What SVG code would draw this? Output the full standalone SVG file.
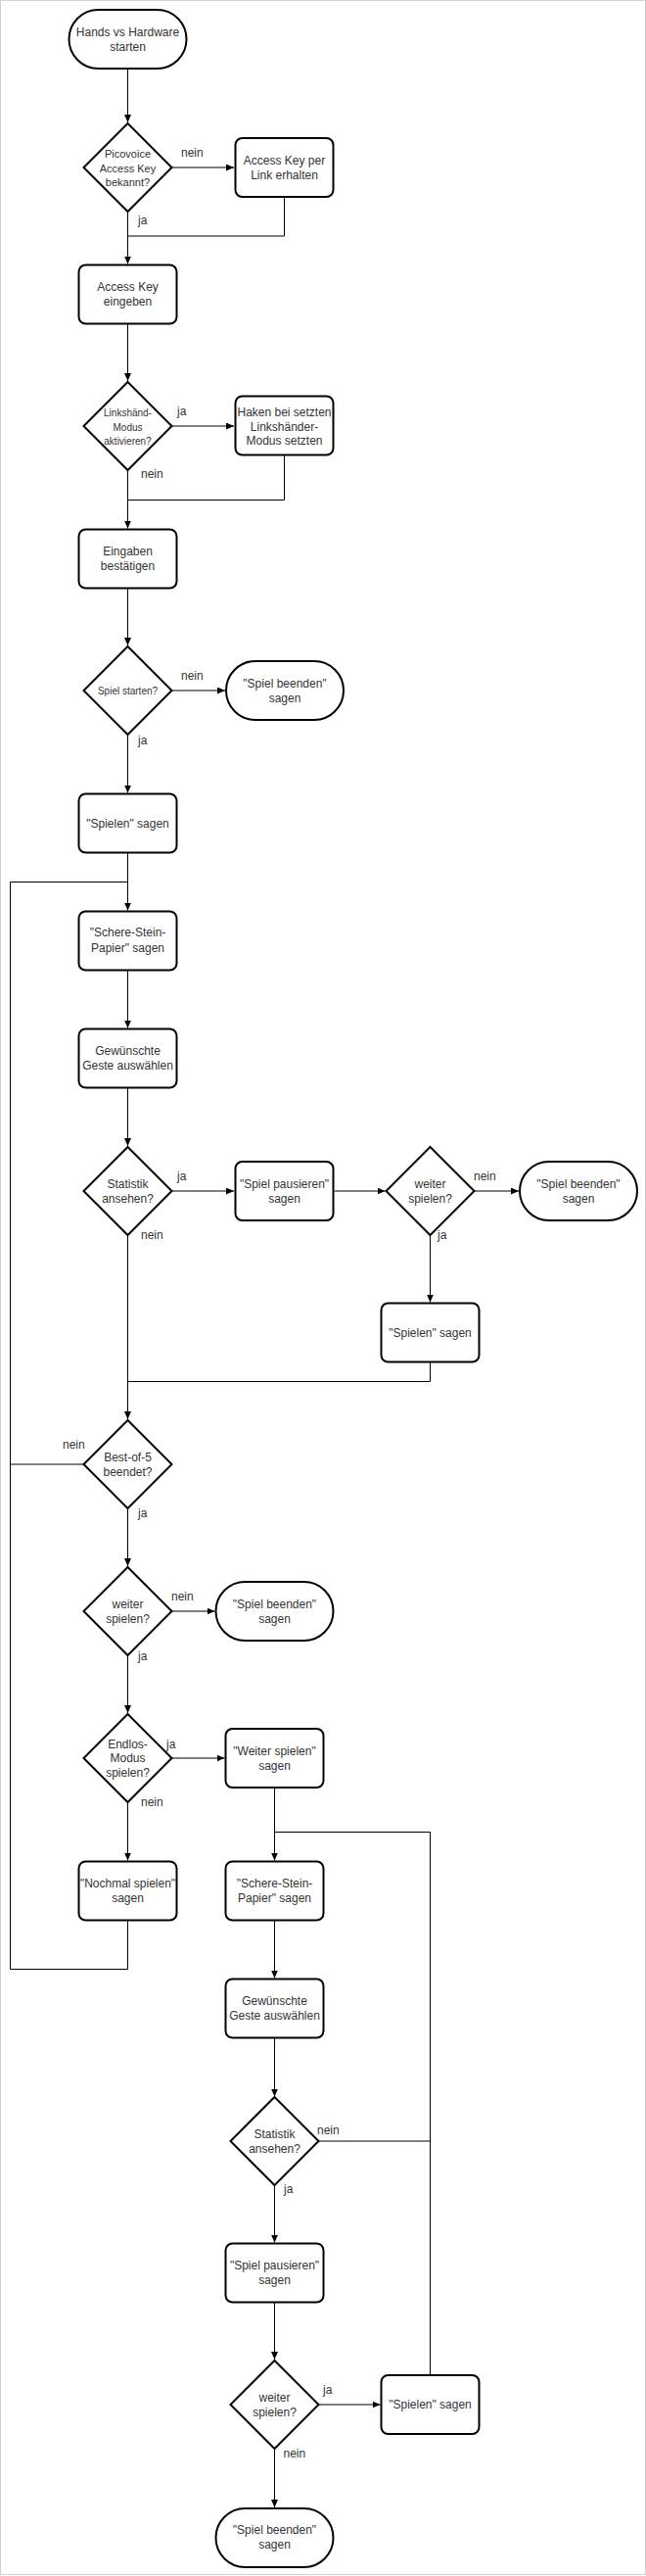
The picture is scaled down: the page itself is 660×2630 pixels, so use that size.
<svg xmlns="http://www.w3.org/2000/svg" width="660" height="2630" viewBox="0 0 660 2630">
<style>
.n{fill:#fff;stroke:#000;stroke-width:2}
.t{font-family:"Liberation Sans",Arial,sans-serif;font-size:12px;fill:#333;text-anchor:middle}
.s11{font-size:11px}
.s10{font-size:10px}
.l{font-family:"Liberation Sans",Arial,sans-serif;font-size:12px;fill:#333}
.c{fill:none;stroke:#000;stroke-width:1}
</style>
<defs>
<marker id="a" markerWidth="8" markerHeight="7" refX="8" refY="3.5" orient="auto" markerUnits="userSpaceOnUse"><path d="M0,0 L8,3.5 L0,7 z" fill="#000"/></marker>
</defs>
<rect x="0.5" y="0.5" width="659" height="2628" fill="#fff" stroke="#d0d0d0"/>
<g id="connectors">
<path class="c" d="M130.5,70 V125" marker-end="url(#a)"/>
<path class="c" d="M175.5,171 H239" marker-end="url(#a)"/>
<path class="c" d="M290.5,201 V241 H130.5"/>
<path class="c" d="M130.5,216 V269.5" marker-end="url(#a)"/>
<path class="c" d="M130.5,330.5 V389" marker-end="url(#a)"/>
<path class="c" d="M175.5,435 H239" marker-end="url(#a)"/>
<path class="c" d="M290.5,464.5 V510.5 H130.5"/>
<path class="c" d="M130.5,480 V539.5" marker-end="url(#a)"/>
<path class="c" d="M130.5,600.5 V659" marker-end="url(#a)"/>
<path class="c" d="M175.5,705 H230" marker-end="url(#a)"/>
<path class="c" d="M130.5,750 V809.5" marker-end="url(#a)"/>
<path class="c" d="M130.5,870.5 V929.5" marker-end="url(#a)"/>
<path class="c" d="M130.5,990.5 V1049.5" marker-end="url(#a)"/>
<path class="c" d="M130.5,1110.5 V1170" marker-end="url(#a)"/>
<path class="c" d="M175.5,1216 H239" marker-end="url(#a)"/>
<path class="c" d="M341.5,1216 H393.5" marker-end="url(#a)"/>
<path class="c" d="M484.5,1216 H530" marker-end="url(#a)"/>
<path class="c" d="M439.5,1261 V1329.5" marker-end="url(#a)"/>
<path class="c" d="M439.5,1390.5 V1410.5 H130.5"/>
<path class="c" d="M130.5,1261 V1449" marker-end="url(#a)"/>
<path class="c" d="M85.5,1495 H10.5 V900.5 H130.5"/>
<path class="c" d="M130.5,1540 V1599" marker-end="url(#a)"/>
<path class="c" d="M175.5,1645 H219.5" marker-end="url(#a)"/>
<path class="c" d="M130.5,1690 V1749" marker-end="url(#a)"/>
<path class="c" d="M175.5,1795 H229.5" marker-end="url(#a)"/>
<path class="c" d="M130.5,1840 V1899.5" marker-end="url(#a)"/>
<path class="c" d="M130.5,1960.5 V2010.5 H10.5 V1495"/>
<path class="c" d="M280.5,1825 V1899.5" marker-end="url(#a)"/>
<path class="c" d="M280.5,1960.5 V2019.5" marker-end="url(#a)"/>
<path class="c" d="M280.5,2080.5 V2140.5" marker-end="url(#a)"/>
<path class="c" d="M325.5,2186 H439.5"/>
<path class="c" d="M280.5,2231 V2289.5" marker-end="url(#a)"/>
<path class="c" d="M280.5,2350.5 V2409" marker-end="url(#a)"/>
<path class="c" d="M325.5,2455 H388.5" marker-end="url(#a)"/>
<path class="c" d="M439.5,2425 V1870.5 H280.5"/>
<path class="c" d="M280.5,2500 V2560" marker-end="url(#a)"/>
</g>
<g id="labels">
<text class="l" x="185" y="160">nein</text>
<text class="l" x="141" y="229">ja</text>
<text class="l" x="181" y="424">ja</text>
<text class="l" x="144" y="488">nein</text>
<text class="l" x="185" y="694">nein</text>
<text class="l" x="141" y="760">ja</text>
<text class="l" x="181" y="1205">ja</text>
<text class="l" x="144" y="1265">nein</text>
<text class="l" x="484" y="1205">nein</text>
<text class="l" x="447" y="1265">ja</text>
<text class="l" x="64" y="1479">nein</text>
<text class="l" x="141" y="1549">ja</text>
<text class="l" x="175" y="1634">nein</text>
<text class="l" x="141" y="1695">ja</text>
<text class="l" x="170" y="1785">ja</text>
<text class="l" x="144" y="1844">nein</text>
<text class="l" x="324" y="2179">nein</text>
<text class="l" x="290" y="2239">ja</text>
<text class="l" x="330" y="2444">ja</text>
<text class="l" x="289.5" y="2509">nein</text>
</g>
<g id="start">
<rect class="n" x="70.5" y="10" width="120" height="60" rx="30"/>
<text class="t" x="130.5" y="37">Hands vs Hardware</text>
<text class="t" x="130.5" y="52">starten</text>
</g>
<g id="d1">
<path class="n" d="M130.5,126 L175.5,171 L130.5,216 L85.5,171 Z"/>
<text class="t s11" x="130.5" y="161">Picovoice</text>
<text class="t s11" x="130.5" y="175.5">Access Key</text>
<text class="t s11" x="130.5" y="190">bekannt?</text>
</g>
<g id="b1">
<rect class="n" x="240.5" y="141" width="100" height="60" rx="7"/>
<text class="t" x="290.5" y="168">Access Key per</text>
<text class="t" x="290.5" y="183">Link erhalten</text>
</g>
<g id="b2">
<rect class="n" x="80.5" y="270.5" width="100" height="60" rx="7"/>
<text class="t" x="130.5" y="297">Access Key</text>
<text class="t" x="130.5" y="312">eingeben</text>
</g>
<g id="d2">
<path class="n" d="M130.5,390 L175.5,435 L130.5,480 L85.5,435 Z"/>
<text class="t s10" x="130.5" y="425">Linkshänd-</text>
<text class="t s10" x="130.5" y="439.5">Modus</text>
<text class="t s10" x="130.5" y="454">aktivieren?</text>
</g>
<g id="b3">
<rect class="n" x="240.5" y="404.5" width="100" height="60" rx="7"/>
<text class="t" x="290.5" y="425">Haken bei setzten</text>
<text class="t" x="290.5" y="439.5">Linkshänder-</text>
<text class="t" x="290.5" y="454">Modus setzten</text>
</g>
<g id="b4">
<rect class="n" x="80.5" y="540.5" width="100" height="60" rx="7"/>
<text class="t" x="130.5" y="567">Eingaben</text>
<text class="t" x="130.5" y="582">bestätigen</text>
</g>
<g id="d3">
<path class="n" d="M130.5,660 L175.5,705 L130.5,750 L85.5,705 Z"/>
<text class="t s10" x="130.5" y="708.5">Spiel starten?</text>
</g>
<g id="t2">
<rect class="n" x="231" y="675" width="120" height="60" rx="30"/>
<text class="t" x="291" y="702">"Spiel beenden"</text>
<text class="t" x="291" y="717">sagen</text>
</g>
<g id="b5">
<rect class="n" x="80.5" y="810.5" width="100" height="60" rx="7"/>
<text class="t" x="130.5" y="844.5">"Spielen" sagen</text>
</g>
<g id="b6">
<rect class="n" x="80.5" y="930.5" width="100" height="60" rx="7"/>
<text class="t" x="130.5" y="956">"Schere-Stein-</text>
<text class="t" x="130.5" y="971.5">Papier" sagen</text>
</g>
<g id="b7">
<rect class="n" x="80.5" y="1050.5" width="100" height="60" rx="7"/>
<text class="t" x="130.5" y="1077">Gewünschte</text>
<text class="t" x="130.5" y="1092">Geste auswählen</text>
</g>
<g id="d4">
<path class="n" d="M130.5,1171 L175.5,1216 L130.5,1261 L85.5,1216 Z"/>
<text class="t" x="130.5" y="1213">Statistik</text>
<text class="t" x="130.5" y="1228">ansehen?</text>
</g>
<g id="b8">
<rect class="n" x="240.5" y="1186" width="100" height="60" rx="7"/>
<text class="t" x="290.5" y="1213">"Spiel pausieren"</text>
<text class="t" x="290.5" y="1228">sagen</text>
</g>
<g id="d5">
<path class="n" d="M439.5,1171 L484.5,1216 L439.5,1261 L394.5,1216 Z"/>
<text class="t" x="439.5" y="1213">weiter</text>
<text class="t" x="439.5" y="1228">spielen?</text>
</g>
<g id="t3">
<rect class="n" x="531" y="1186" width="120" height="60" rx="30"/>
<text class="t" x="591" y="1213">"Spiel beenden"</text>
<text class="t" x="591" y="1228">sagen</text>
</g>
<g id="b9">
<rect class="n" x="389.5" y="1330.5" width="100" height="60" rx="7"/>
<text class="t" x="439.5" y="1364.5">"Spielen" sagen</text>
</g>
<g id="d6">
<path class="n" d="M130.5,1450 L175.5,1495 L130.5,1540 L85.5,1495 Z"/>
<text class="t" x="130.5" y="1491.5">Best-of-5</text>
<text class="t" x="130.5" y="1506.5">beendet?</text>
</g>
<g id="d7">
<path class="n" d="M130.5,1600 L175.5,1645 L130.5,1690 L85.5,1645 Z"/>
<text class="t" x="130.5" y="1642">weiter</text>
<text class="t" x="130.5" y="1657">spielen?</text>
</g>
<g id="t4">
<rect class="n" x="220.5" y="1615" width="120" height="60" rx="30"/>
<text class="t" x="280.5" y="1642">"Spiel beenden"</text>
<text class="t" x="280.5" y="1657">sagen</text>
</g>
<g id="d8">
<path class="n" d="M130.5,1750 L175.5,1795 L130.5,1840 L85.5,1795 Z"/>
<text class="t" x="130.5" y="1784.5">Endlos-</text>
<text class="t" x="130.5" y="1799">Modus</text>
<text class="t" x="130.5" y="1813.5">spielen?</text>
</g>
<g id="b10">
<rect class="n" x="230.5" y="1765" width="100" height="60" rx="7"/>
<text class="t" x="280.5" y="1792">"Weiter spielen"</text>
<text class="t" x="280.5" y="1807">sagen</text>
</g>
<g id="b11">
<rect class="n" x="80.5" y="1900.5" width="100" height="60" rx="7"/>
<text class="t" x="130.5" y="1927">"Nochmal spielen"</text>
<text class="t" x="130.5" y="1942">sagen</text>
</g>
<g id="b12">
<rect class="n" x="230.5" y="1900.5" width="100" height="60" rx="7"/>
<text class="t" x="280.5" y="1927">"Schere-Stein-</text>
<text class="t" x="280.5" y="1942">Papier" sagen</text>
</g>
<g id="b13">
<rect class="n" x="230.5" y="2020.5" width="100" height="60" rx="7"/>
<text class="t" x="280.5" y="2046.5">Gewünschte</text>
<text class="t" x="280.5" y="2061.5">Geste auswählen</text>
</g>
<g id="d9">
<path class="n" d="M280.5,2141 L325.5,2186 L280.5,2231 L235.5,2186 Z"/>
<text class="t" x="280.5" y="2183">Statistik</text>
<text class="t" x="280.5" y="2198">ansehen?</text>
</g>
<g id="b14">
<rect class="n" x="230.5" y="2290.5" width="100" height="60" rx="7"/>
<text class="t" x="280.5" y="2317">"Spiel pausieren"</text>
<text class="t" x="280.5" y="2332">sagen</text>
</g>
<g id="d10">
<path class="n" d="M280.5,2410 L325.5,2455 L280.5,2500 L235.5,2455 Z"/>
<text class="t" x="280.5" y="2452">weiter</text>
<text class="t" x="280.5" y="2467">spielen?</text>
</g>
<g id="b15">
<rect class="n" x="389.5" y="2425" width="100" height="60" rx="7"/>
<text class="t" x="439.5" y="2459">"Spielen" sagen</text>
</g>
<g id="t5">
<rect class="n" x="220.5" y="2561" width="120" height="60" rx="30"/>
<text class="t" x="280.5" y="2587">"Spiel beenden"</text>
<text class="t" x="280.5" y="2602">sagen</text>
</g>
</svg>
